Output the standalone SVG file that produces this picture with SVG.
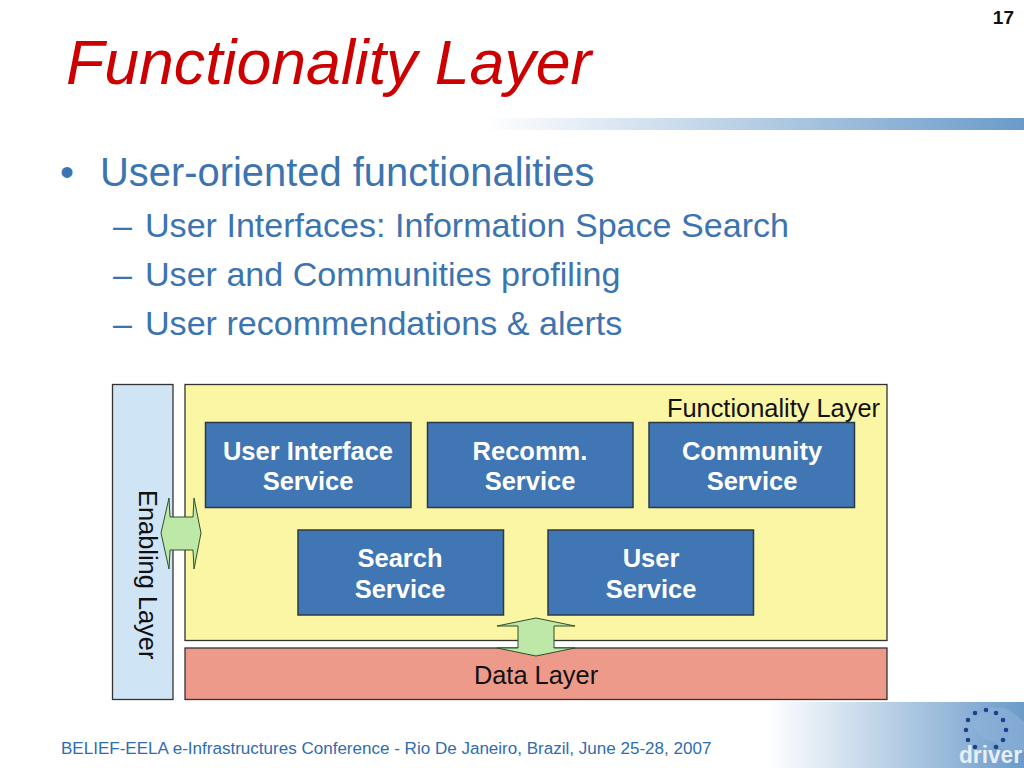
<svg xmlns="http://www.w3.org/2000/svg" width="1024" height="768" viewBox="0 0 1024 768">
<style>
text{font-family:"Liberation Sans",Arial,sans-serif}
.sub{font-size:34.100px;fill:#3c74b0}
.box{fill:#3f76b3;stroke:#2b3a4a;stroke-width:1.5}
.lbl{font-size:25.500px;font-weight:bold;fill:#fff;text-anchor:middle}
.dk{font-size:25.400px;fill:#111}
.arrow{fill:#bde8a8;stroke:#2f4f2f;stroke-width:1}
.dot{fill:#1f3f8f}
</style>
<defs>
<linearGradient id="g1" x1="0" x2="1" y1="0" y2="0"><stop offset="0" stop-color="#fff"/><stop offset="1" stop-color="#6b9bca"/></linearGradient>
</defs>
<rect width="1024" height="768" fill="#fff"/>
<rect x="485" y="118" width="539" height="12" fill="url(#g1)"/>
<rect x="768" y="702" width="256" height="66" fill="url(#g1)"/>
<text x="66" y="84" font-size="62.600" font-style="italic" fill="#cc0000">Functionality Layer</text>
<text x="1014" y="24" font-size="19" font-weight="bold" fill="#111" text-anchor="end">17</text>
<text x="60" y="186" font-size="39.900" fill="#3c74b0">•</text>
<text x="100" y="186" font-size="39.900" fill="#3c74b0">User-oriented functionalities</text>
<text x="113" y="237" class="sub">–</text>
<text x="145" y="237" class="sub">User Interfaces: Information Space Search</text>
<text x="113" y="286" class="sub">–</text>
<text x="145" y="286" class="sub">User and Communities profiling</text>
<text x="113" y="335" class="sub">–</text>
<text x="145" y="335" class="sub">User recommendations &amp; alerts</text>
<g id="enabling-layer"><rect x="112.500" y="384.500" width="60.500" height="315" fill="#cfe4f5" stroke="#333" stroke-width="1.3"/>
<text transform="translate(139,490) rotate(90)" class="dk">Enabling Layer</text></g>
<g id="functionality-layer"><rect x="185" y="384.500" width="702" height="256" fill="#fbf6a3" stroke="#333" stroke-width="1.3"/>
<text x="880" y="417" class="dk" text-anchor="end">Functionality Layer</text></g>
<g id="data-layer"><rect x="185" y="648" width="702" height="51.500" fill="#ee9a8a" stroke="#333" stroke-width="1.3"/>
<text x="536" y="684" class="dk" text-anchor="middle">Data Layer</text></g>
<g id="user-interface-service"><rect class="box" x="205.500" y="422.500" width="205.500" height="85"/><text class="lbl" x="308" y="460">User Interface</text><text class="lbl" x="308" y="490">Service</text></g>
<g id="recomm-service"><rect class="box" x="427.500" y="422.500" width="205.500" height="85"/><text class="lbl" x="530" y="460">Recomm.</text><text class="lbl" x="530" y="490">Service</text></g>
<g id="community-service"><rect class="box" x="649" y="422.500" width="205.500" height="85"/><text class="lbl" x="752" y="460">Community</text><text class="lbl" x="752" y="490">Service</text></g>
<g id="search-service"><rect class="box" x="298" y="530" width="205.500" height="85"/><text class="lbl" x="400" y="567">Search</text><text class="lbl" x="400" y="598">Service</text></g>
<g id="user-service"><rect class="box" x="548" y="530" width="205.500" height="85"/><text class="lbl" x="651" y="567">User</text><text class="lbl" x="651" y="598">Service</text></g>
<g id="connectors">
<polygon class="arrow" points="161,533 169,498 170,517 193,517 194,498 201,533 194,569 193,550 170,550 169,569"/>
<polygon class="arrow" points="536,618 575,626 554,626 554,648 575,648 536,656 497,648 518,648 518,626 497,626"/>
</g>
<g id="driver-logo">
<path d="M985 708l20 0 12 8 7 6v30h-20l-8-10-14-4-10-14z" fill="#8fb3d8" opacity=".6"/>
<g class="dot"><circle cx="975" cy="713" r="2.300"/><circle cx="986" cy="710" r="2.300"/><circle cx="996" cy="713" r="2.300"/><circle cx="968" cy="720" r="2.300"/><circle cx="1003" cy="720" r="2.300"/><circle cx="966" cy="730" r="2.300"/><circle cx="1006" cy="730" r="2.300"/><circle cx="968" cy="740" r="2.300"/><circle cx="1003" cy="740" r="2.300"/><circle cx="975" cy="747" r="2.300"/><circle cx="996" cy="747" r="2.300"/></g>
<text x="959" y="763" font-size="23" font-weight="bold" fill="#e6eef7" textLength="63" lengthAdjust="spacingAndGlyphs">driver</text>
</g>
<text x="61" y="754" font-size="17.050" fill="#2f6cb0">BELIEF-EELA e-Infrastructures Conference - Rio De Janeiro, Brazil, June 25-28, 2007</text>
</svg>
